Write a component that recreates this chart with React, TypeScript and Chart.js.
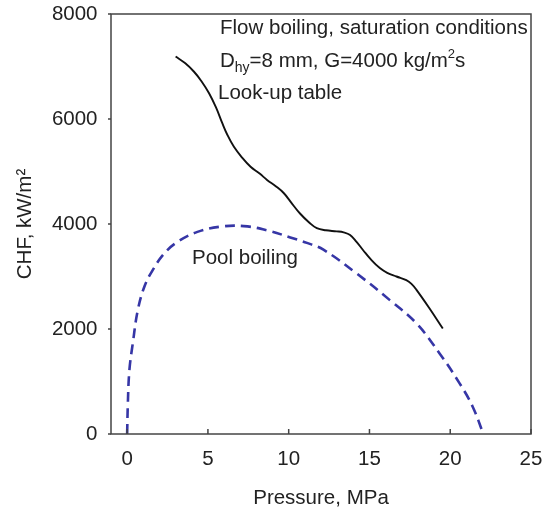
import React, { useEffect, useRef } from "react";
import { Chart, registerables } from "chart.js";

Chart.register(...registerables);

// Look-up table (flow boiling) CHF curve
const lookupPressure = [3.0, 3.6, 4.14, 4.6, 5.07, 5.5, 5.89, 6.2, 6.61, 7.1, 7.64, 8.2, 8.66, 9.2, 9.69, 10.1, 10.7, 11.3, 11.74, 12.3, 12.97, 13.4, 13.8, 14.2, 14.61, 15.1, 15.64, 16.1, 16.67, 17.28, 17.6, 17.9, 18.7, 19.54];
const lookupCHF = [7190, 7060, 6900, 6720, 6490, 6220, 5920, 5700, 5470, 5270, 5090, 4960, 4840, 4720, 4590, 4430, 4200, 4020, 3920, 3880, 3860, 3840, 3790, 3660, 3500, 3320, 3160, 3070, 3000, 2930, 2860, 2750, 2400, 2010];

// Pool boiling CHF curve
const poolPressure = [0.0, 0.04, 0.14, 0.35, 0.66, 1.07, 1.58, 2.3, 3.12, 4.35, 5.79, 7.22, 8.66, 10.1, 11.13, 12.15, 14.2, 16.26, 17.9, 19.33, 20.57, 21.39, 22.05];
const poolCHF = [0, 550, 1220, 1730, 2360, 2810, 3120, 3440, 3660, 3850, 3950, 3960, 3880, 3745, 3640, 3510, 3060, 2550, 2110, 1540, 970, 520, 0];

const xTicks = [0, 5, 10, 15, 20, 25];
const yTicks = [0, 2000, 4000, 6000, 8000];
const xRange = [-1, 25];
const yRange = [0, 8000];

const xTitle = "Pressure, MPa";
const yTitle = "CHF, kW/m\u00B2";
const noteLine1 = "Flow boiling, saturation conditions";
const noteLine3 = "Look-up table";
const poolLabel = "Pool boiling";

const FAMILY = '"Liberation Sans", Arial, Helvetica, sans-serif';
const FS = 20.5;
const TEXT = "#222";

const framePlugin = {
  id: "frameAndNotes",
  afterDraw(chart: any) {
    const { ctx, chartArea: a, scales } = chart;
    ctx.save();
    ctx.strokeStyle = "#444";
    ctx.lineWidth = 1.5;
    ctx.strokeRect(a.left, a.top, a.right - a.left, a.bottom - a.top);
    ctx.beginPath();
    xTicks.forEach((v) => {
      const x = scales.x.getPixelForValue(v);
      ctx.moveTo(x, a.bottom);
      ctx.lineTo(x, a.bottom - 5);
    });
    yTicks.forEach((v) => {
      const y = scales.y.getPixelForValue(v);
      ctx.moveTo(a.left - 3, y);
      ctx.lineTo(a.left, y);
    });
    ctx.stroke();

    ctx.fillStyle = TEXT;
    ctx.textBaseline = "alphabetic";
    ctx.textAlign = "left";
    const big = `${FS}px ${FAMILY}`;
    const small = `14px ${FAMILY}`;
    const sup = `13px ${FAMILY}`;
    const x0 = a.left + 109;
    ctx.font = big;
    ctx.fillText(noteLine1, x0, a.top + 20);
    // line 2 with subscript / superscript
    let x = x0;
    const b2 = a.top + 53;
    ctx.font = big;
    ctx.fillText("D", x, b2);
    x += ctx.measureText("D").width;
    ctx.font = small;
    ctx.fillText("hy", x, b2 + 5);
    x += ctx.measureText("hy").width;
    ctx.font = big;
    const mid = "=8 mm, G=4000 kg/m";
    ctx.fillText(mid, x, b2);
    x += ctx.measureText(mid).width;
    ctx.font = sup;
    ctx.fillText("2", x, b2 - 9);
    x += ctx.measureText("2").width;
    ctx.font = big;
    ctx.fillText("s", x, b2);
    ctx.fillText(noteLine3, x0 - 2, a.top + 85);
    ctx.fillText(poolLabel, a.left + 81, a.top + 250);
    ctx.restore();
  },
};

export default function App() {
  const ref = useRef<HTMLCanvasElement | null>(null);
  useEffect(() => {
    if (!ref.current) return;
    const tickFont = { family: FAMILY, size: FS, lineHeight: 1.1 };
    const chart = new Chart(ref.current, {
      type: "scatter",
      data: {
        datasets: [
          {
            label: "Look-up table",
            data: lookupPressure.map((p, i) => ({ x: p, y: lookupCHF[i] })),
            showLine: true,
            borderColor: "#111",
            borderWidth: 1.9,
            pointRadius: 0,
            tension: 0.4,
            fill: false,
          },
          {
            label: "Pool boiling",
            data: poolPressure.map((p, i) => ({ x: p, y: poolCHF[i] })),
            showLine: true,
            borderColor: "#3636a6",
            borderWidth: 2.6,
            borderDash: [10, 6],
            pointRadius: 0,
            tension: 0.4,
            fill: false,
          },
        ],
      },
      options: {
        responsive: false,
        animation: false,
        devicePixelRatio: 1,
        layout: { padding: { top: 14, right: 14, left: 0, bottom: 0 } },
        plugins: { legend: { display: false }, tooltip: { enabled: false } },
        scales: {
          x: {
            type: "linear",
            min: xRange[0],
            max: xRange[1],
            afterBuildTicks: (s: any) => {
              s.ticks = xTicks.map((v) => ({ value: v }));
            },
            afterFit: (s: any) => {
              s.height = 76;
              s.paddingLeft = 0;
              s.paddingRight = 0;
            },
            grid: { display: false, drawTicks: false },
            border: { display: false },
            ticks: { font: tickFont, color: TEXT, padding: 14, maxRotation: 0, autoSkip: false, callback: (v: any) => String(v) },
            title: { display: true, text: xTitle, font: tickFont, color: TEXT, padding: { top: 0, bottom: 0 } },
          },
          y: {
            type: "linear",
            min: yRange[0],
            max: yRange[1],
            afterBuildTicks: (s: any) => {
              s.ticks = yTicks.map((v) => ({ value: v }));
            },
            afterFit: (s: any) => {
              s.width = 111;
              s.paddingTop = 0;
              s.paddingBottom = 0;
            },
            grid: { display: false, drawTicks: false },
            border: { display: false },
            ticks: { font: tickFont, color: TEXT, padding: 13.5, autoSkip: false, callback: (v: any) => String(v) },
            title: { display: true, text: yTitle, font: tickFont, color: TEXT, padding: { top: 13.7, bottom: 0 } },
          },
        },
      },
      plugins: [framePlugin],
    } as any);
    return () => chart.destroy();
  }, []);
  return (
    <div style={{ position: "fixed", left: 0, top: 0, width: 545, height: 510, background: "#fff" }}>
      <canvas ref={ref} width={545} height={510} style={{ display: "block", width: 545, height: 510 }} />
    </div>
  );
}
